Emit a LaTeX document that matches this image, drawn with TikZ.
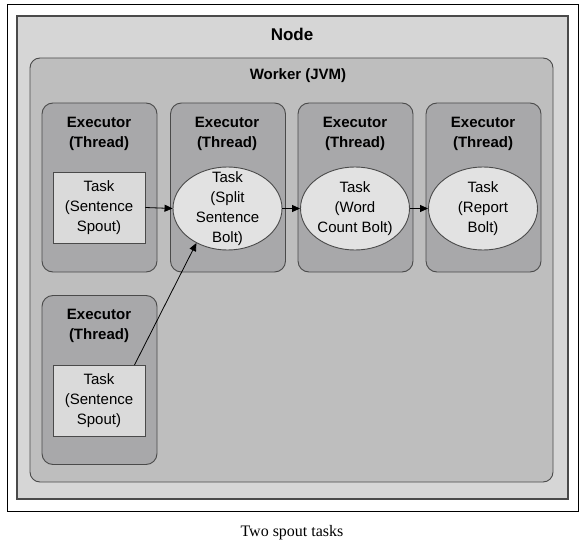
\documentclass[tikz,border=0pt]{standalone}
\usepackage{fontspec}
\setmainfont{Liberation Sans}
\newfontfamily\capfont{Liberation Serif}
\usetikzlibrary{shapes.geometric,arrows.meta}
\definecolor{nodegray}{HTML}{D6D6D6}
\definecolor{workergray}{HTML}{BEBEBE}
\definecolor{execgray}{HTML}{A8A8AA}
\definecolor{taskgray}{HTML}{DADADA}
\definecolor{ellgray}{HTML}{E2E2E2}
\definecolor{edgegray}{HTML}{4A4A4A}
\tikzset{
  frame/.style={draw=black, line width=0.9pt, fill=white, minimum width=571, minimum height=507, inner sep=0},
  nodebox/.style={draw=edgegray, line width=1.1pt, fill=nodegray, minimum width=551, minimum height=483, inner sep=0},
  workerbox/.style={draw=edgegray, line width=0.9pt, fill=workergray, rounded corners=10pt, minimum width=523, minimum height=424, inner sep=0},
  execbox/.style={draw=edgegray, line width=0.9pt, fill=execgray, rounded corners=11pt, minimum width=115, minimum height=169, inner sep=0},
  taskrect/.style={draw=edgegray, line width=0.9pt, fill=taskgray, minimum width=92, minimum height=71, inner sep=0, align=center, font=\fontsize{15}{20}\selectfont},
  taskell/.style={ellipse, draw=edgegray, line width=0.9pt, fill=ellgray, minimum width=109, minimum height=83, inner sep=-16pt, align=center, font=\fontsize{15}{20}\selectfont},
  ttl/.style={align=center, font=\bfseries\fontsize{15}{20}\selectfont, inner sep=0},
  arr/.style={-{Triangle[length=8pt,width=7pt]}, line width=0.8pt, black},
}
\begin{document}
\begin{tikzpicture}[x=1pt,y=-1pt]
\useasboundingbox (0,0) rectangle (588,545);
\node[frame] (outer) at (292.5,257.5) {};
\node[nodebox] (nodebox) at (292.5,257.5) {};
\node[ttl, font=\bfseries\fontsize{17}{20}\selectfont] (nodettl) at (292,34) {Node};
\node[workerbox] (worker) at (291.5,270) {};
\node[ttl] (workerttl) at (298,76) {Worker (JVM)};
% executors
\node[execbox] (ex1) at (99.5,187.5) {};
\node[execbox] (ex2) at (228,187.5) {};
\node[execbox] (ex3) at (355.5,187.5) {};
\node[execbox] (ex4) at (483.5,187.5) {};
\node[execbox] (ex5) at (99.5,380) {};
\node[ttl] (ex1t) at (99,134) {Executor\\(Thread)};
\node[ttl] (ex2t) at (227,134) {Executor\\(Thread)};
\node[ttl] (ex3t) at (355,134) {Executor\\(Thread)};
\node[ttl] (ex4t) at (483,134) {Executor\\(Thread)};
\node[ttl] (ex5t) at (99,326) {Executor\\(Thread)};
% tasks
\node[taskrect] (t1) at (99,207.5) {Task\\(Sentence\\Spout)};
\node[taskell] (e1) at (227.5,208.5) {Task\\(Split\\Sentence\\Bolt)};
\node[taskell] (e2) at (355,208.5) {Task\\(Word\\Count Bolt)};
\node[taskell] (e3) at (483,208.5) {Task\\(Report\\Bolt)};
\node[taskrect] (t5) at (99,401) {Task\\(Sentence\\Spout)};
% arrows
\draw[arr] (t1.east) -- (e1.west);
\draw[arr] (e1.east) -- (e2.west);
\draw[arr] (e2.east) -- (e3.west);
\coordinate (t5top) at ([xshift=-11pt]t5.north east);
\draw[arr] (t5top) -- (e1.228);
% caption
\node[font=\capfont\fontsize{16}{18}\selectfont, inner sep=0] (cap) at (292,533) {Two spout tasks};
\end{tikzpicture}
\end{document}
